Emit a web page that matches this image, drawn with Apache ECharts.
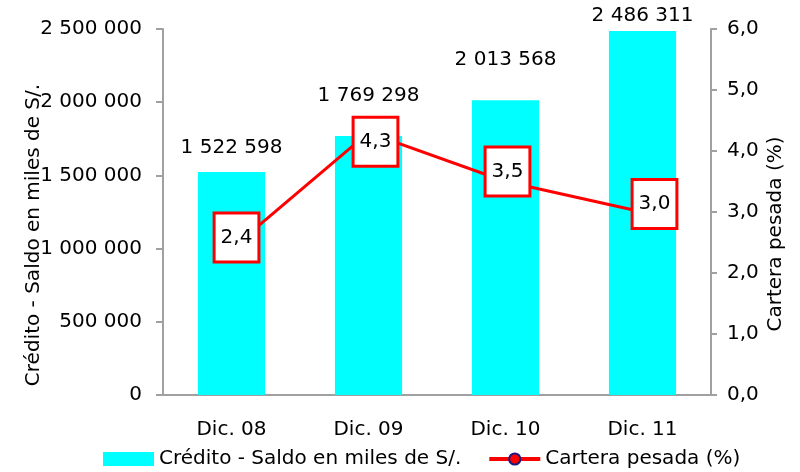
<!DOCTYPE html>
<html>
<head>
<meta charset="utf-8">
<script src="https://cdn.jsdelivr.net/npm/echarts@6/dist/echarts.min.js"></script>
<style>
  html, body { margin: 0; padding: 0; background: #fff; }
  #chart { width: 800px; height: 472px; }
</style>
</head>
<body>
<div id="chart"></div>
<script>
  // data
  var categories = ['Dic. 08', 'Dic. 09', 'Dic. 10', 'Dic. 11'];
  var credito = [1522598, 1769298, 2013568, 2486311];
  var cartera = [2.4, 4.3, 3.5, 3.0];
  var barName = 'Crédito - Saldo en miles de S/.';
  var lineName = 'Cartera pesada (%)';

  // hand-placed labels like in the original (pixels)
  var barLabelLift = [14, 30, 30, 5];
  var boxShift = [[5, -11], [7, 9], [2, -10], [12, -8]];

  function miles(v) {
    return String(v).replace(/\B(?=(\d{3})+(?!\d))/g, ' ');
  }
  function coma(v) {
    return v.toFixed(1).replace('.', ',');
  }

  var font = 'DejaVu Sans, sans-serif';
  var fs = 20;
  var gris = '#a0a0a0';

  var barData = credito.map(function (v, i) {
    return { value: v, label: { distance: barLabelLift[i] } };
  });
  var lineData = cartera.map(function (v, i) {
    return { value: v, label: { offset: boxShift[i] } };
  });

  var chart = echarts.init(document.getElementById('chart'));
  chart.setOption({
    animation: false,
    textStyle: { fontFamily: font },
    grid: { left: 163, right: 89, top: 29, bottom: 77 },
    legend: {
      top: 449,
      left: 103,
      padding: 0,
      itemGap: 26,
      itemWidth: 51,
      itemHeight: 14,
      textStyle: { fontSize: fs, color: '#000', fontFamily: font },
      data: [
        { name: barName, icon: 'rect', itemStyle: { color: '#00ffff' } },
        { name: lineName, lineStyle: { width: 4 } }
      ]
    },
    xAxis: {
      type: 'category',
      data: categories,
      axisLine: { lineStyle: { color: gris, width: 2 } },
      axisTick: { length: 7, lineStyle: { color: gris, width: 2 } },
      axisLabel: { fontSize: fs, color: '#000', margin: 25 }
    },
    yAxis: [
      {
        type: 'value',
        min: 0,
        max: 2500000,
        interval: 500000,
        name: barName,
        nameLocation: 'middle',
        nameGap: 119,
        nameMoveOverlap: false,
        nameTextStyle: { fontSize: fs, color: '#000', padding: [0, 46, 0, 0] },
        splitLine: { show: false },
        axisLine: { show: true, lineStyle: { color: gris, width: 2 } },
        axisTick: { show: true, length: 7, lineStyle: { color: gris, width: 2 } },
        axisLabel: { fontSize: fs, color: '#000', margin: 21, formatter: miles }
      },
      {
        type: 'value',
        min: 0,
        max: 6,
        interval: 1,
        name: lineName,
        nameLocation: 'middle',
        nameGap: 55,
        nameRotate: 90,
        nameMoveOverlap: false,
        nameTextStyle: { fontSize: fs, color: '#000', padding: [0, 44, 0, 0] },
        splitLine: { show: false },
        axisLine: { show: true, lineStyle: { color: gris, width: 2 } },
        axisTick: { show: true, length: 6, lineStyle: { color: gris, width: 2 } },
        axisLabel: { fontSize: fs, color: '#000', margin: 16, formatter: coma }
      }
    ],
    series: [
      {
        name: barName,
        type: 'bar',
        data: barData,
        barWidth: '49%',
        itemStyle: { color: '#00ffff' },
        label: {
          show: true,
          position: 'top',
          fontSize: fs,
          color: '#000',
          formatter: function (p) { return miles(p.value); }
        }
      },
      {
        name: lineName,
        type: 'line',
        yAxisIndex: 1,
        data: lineData,
        symbol: 'circle',
        symbolSize: 12,
        itemStyle: { color: '#ff0000', borderColor: '#1a1a80', borderWidth: 2 },
        lineStyle: { color: '#ff0000', width: 3 },
        label: {
          show: true,
          position: 'inside',
          fontSize: fs,
          lineHeight: 22,
          color: '#000',
          backgroundColor: '#fff',
          borderColor: '#ff0000',
          borderWidth: 3,
          padding: [12, 5, 12, 5],
          formatter: function (p) { return coma(p.value); }
        },
        z: 5
      }
    ]
  });
</script>
</body>
</html>
